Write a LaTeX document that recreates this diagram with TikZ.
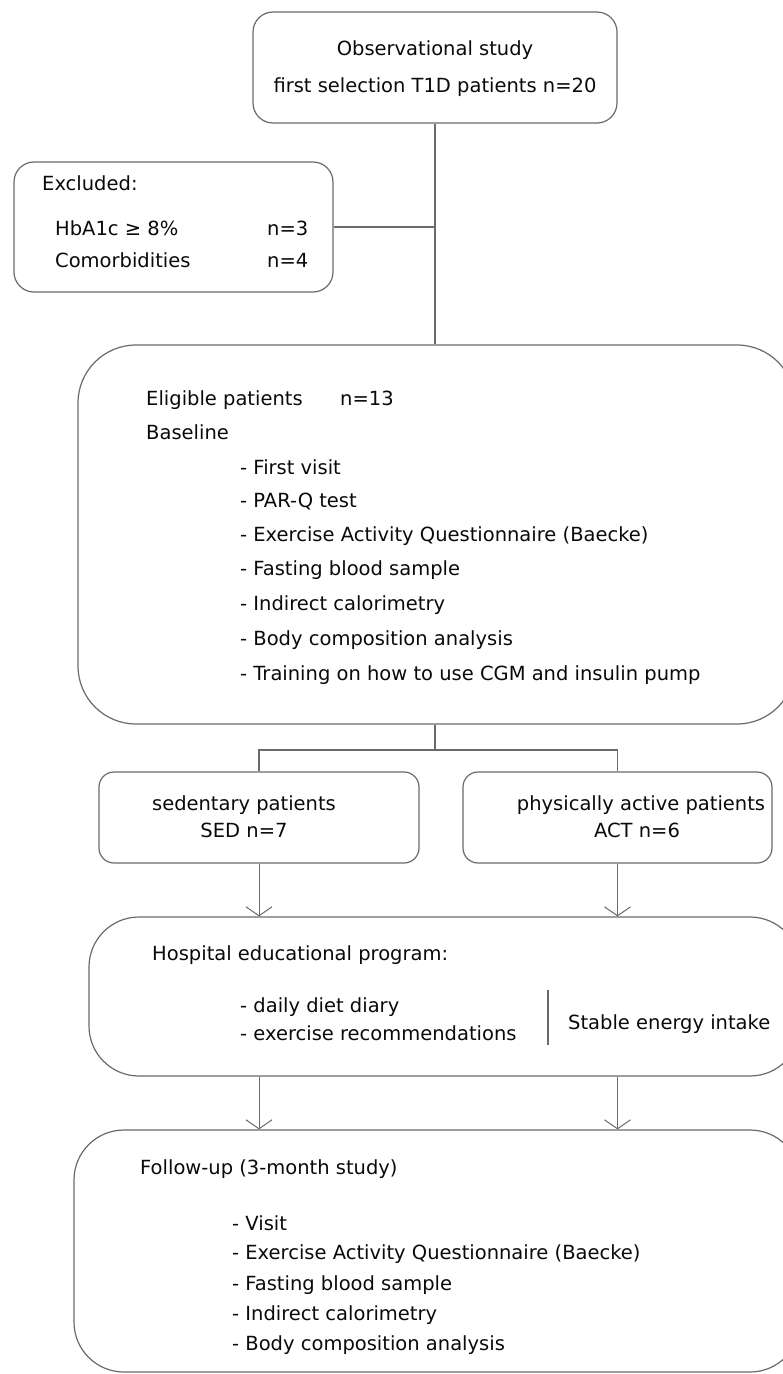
\documentclass[tikz,border=0pt]{standalone}
\usepackage{fontspec}
\setmainfont{DejaVu Sans}
\usetikzlibrary{arrows.meta}
\definecolor{lc}{HTML}{6A6A6A}
\definecolor{tc}{HTML}{0A0A0A}
\newcommand{\fs}{\fontsize{19.5}{23}\selectfont}
\begin{document}
\begin{tikzpicture}[x=1pt,y=-1pt,
  box/.style={draw=lc, line width=1.2pt, inner sep=0pt, fill=none},
  txt/.style={inner sep=0pt, anchor=base west, font=\fs, text=tc},
  ctxt/.style={inner sep=0pt, anchor=base, font=\fs, text=tc},
  conn/.style={draw=lc, line width=1.1pt},
  arr/.style={draw=lc, line width=1pt, -{Straight Barb[length=9pt,width=26pt]}}]
\useasboundingbox (0,0) rectangle (783,1374);
\clip (0,0) rectangle (783,1374);
\fill[white] (0,0) rectangle (783,1374);
% boxes
\node[box, rounded corners=20pt, minimum width=364pt, minimum height=111pt] (top) at (435,67.5) {};
\node[box, rounded corners=20pt, minimum width=319pt, minimum height=130pt] (excl) at (173.5,227) {};
\node[box, rounded corners=58pt, minimum width=717pt, minimum height=379pt] (elig) at (436.5,534.5) {};
\node[box, rounded corners=15pt, minimum width=320pt, minimum height=91pt] (sed) at (259,817.5) {};
\node[box, rounded corners=15pt, minimum width=309pt, minimum height=91pt] (act) at (617.5,817.5) {};
\node[box, rounded corners=50pt, minimum width=711pt, minimum height=159pt] (hosp) at (444.5,996.5) {};
\node[box, rounded corners=50pt, minimum width=726pt, minimum height=242pt] (fu) at (437,1251) {};
% top texts
\node[ctxt] (t1) at (435,55) {Observational study};
\node[ctxt] (t2) at (435,92) {first selection T1D patients n=20};
% excluded texts
\node[txt] (e1) at (42,190) {Excluded:};
\node[txt] (e2) at (55,235) {HbA1c ≥ 8\%};
\node[txt] (e3) at (55,267) {Comorbidities};
\node[txt] (e4) at (267,235) {n=3};
\node[txt] (e5) at (267,267) {n=4};
% eligible texts
\node[txt] (g1) at (146,405) {Eligible patients};
\node[txt] (g1n) at (340,405) {n=13};
\node[txt] (g2) at (146,439) {Baseline};
\node[txt] (g3) at (240,474) {- First visit};
\node[txt] (g4) at (240,507) {- PAR-Q test};
\node[txt] (g5) at (240,541) {- Exercise Activity Questionnaire (Baecke)};
\node[txt] (g6) at (240,575) {- Fasting blood sample};
\node[txt] (g7) at (240,610) {- Indirect calorimetry};
\node[txt] (g8) at (240,645) {- Body composition analysis};
\node[txt] (g9) at (240,680) {- Training on how to use CGM and insulin pump};
% groups
\node[ctxt] (s1) at (244,810) {sedentary patients};
\node[ctxt] (s2) at (244,837) {SED n=7};
\node[ctxt] (a1) at (641,810) {physically active patients};
\node[ctxt] (a2) at (637,837) {ACT n=6};
% hospital
\node[txt] (h1) at (152,960) {Hospital educational program:};
\node[txt] (h2) at (240,1012) {- daily diet diary};
\node[txt] (h3) at (240,1040) {- exercise recommendations};
\node[txt] (h4) at (568,1029) {Stable energy intake};
\coordinate (d1) at (548,990);
\coordinate (d2) at (548,1045);
\draw[conn] (d1) -- (d2);
% follow-up
\node[txt] (f1) at (140,1174) {Follow-up (3-month study)};
\node[txt] (f2) at (232,1230) {- Visit};
\node[txt] (f3) at (232,1259) {- Exercise Activity Questionnaire (Baecke)};
\node[txt] (f4) at (232,1290) {- Fasting blood sample};
\node[txt] (f5) at (232,1320) {- Indirect calorimetry};
\node[txt] (f6) at (232,1350) {- Body composition analysis};
% connectors
\coordinate (j1) at (top.south |- excl.east);
\coordinate (br) at (435,750);
\draw[conn] (top.south) -- (elig.north -| top.south);
\draw[conn] (excl.east) -- (j1);
\draw[conn] (elig.south -| br) -- (br);
\draw[conn] (sed.north) |- (br) -| (act.north);
\draw[arr] (sed.south) -- (sed.south |- hosp.north);
\draw[arr] (act.south) -- (act.south |- hosp.north);
\draw[arr] (sed.south |- hosp.south) -- (sed.south |- fu.north);
\draw[arr] (act.south |- hosp.south) -- (act.south |- fu.north);
\end{tikzpicture}
\end{document}
